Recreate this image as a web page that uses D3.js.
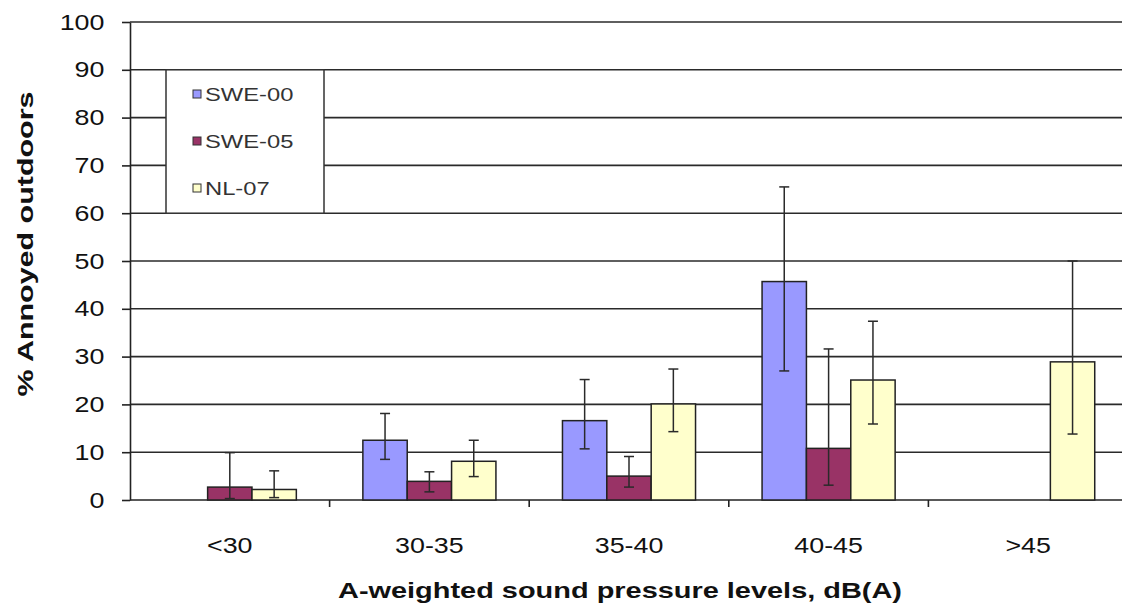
<!DOCTYPE html>
<html>
<head>
    <meta charset='utf-8' />
    <title>% Annoyed outdoors</title>
    <script src="https://d3js.org/d3.v7.min.js" charset="utf-8"></script>
    <style>
        body {
            margin: 0;
            background: #fff;
            font-family: "Liberation Sans", Arial, sans-serif;
        }
        .grid line {
            stroke: #2a2a2a;
            stroke-width: 1.6;
        }
        .axis path,
        .axis line {
            fill: none;
            stroke: #222;
            stroke-width: 1.6;
        }
        .axis text {
            fill: #111;
            font-size: 22px;
            font-family: "Liberation Sans", Arial, sans-serif;
        }
        .bar {
            stroke: #222;
            stroke-width: 1.5;
        }
        .err {
            stroke: #2a2a2a;
            stroke-width: 1.5;
        }
        .title {
            font-size: 22px;
            font-weight: bold;
            fill: #111;
        }
        .legend text {
            font-size: 19px;
            fill: #333;
        }
    </style>
</head>
<body>
<div id="graphic"></div>
<script>
    // categories and series
    var categories = ["<30", "30-35", "35-40", "40-45", ">45"];
    var seriesNames = ["SWE-00", "SWE-05", "NL-07"];
    var seriesColors = ["#9999ff", "#993366", "#ffffcc"];

    var swe00 = [null, 12.5, 16.6, 45.7, null];
    var swe00Lo = [null, 8.5, 10.7, 27.0, null];
    var swe00Hi = [null, 18.1, 25.2, 65.5, null];

    var swe05 = [2.7, 3.9, 5.0, 10.8, null];
    var swe05Lo = [0.3, 1.7, 2.7, 3.1, null];
    var swe05Hi = [9.9, 5.9, 9.1, 31.6, null];

    var nl07 = [2.2, 8.1, 20.1, 25.1, 28.9];
    var nl07Lo = [0.5, 4.9, 14.3, 15.9, 13.8];
    var nl07Hi = [6.1, 12.5, 27.4, 37.4, 50.0];

    var yTicks = [0, 10, 20, 30, 40, 50, 60, 70, 80, 90, 100];

    var values = [swe00, swe05, nl07];
    var lows = [swe00Lo, swe05Lo, nl07Lo];
    var highs = [swe00Hi, swe05Hi, nl07Hi];

    var W = 1122, H = 607;
    var plotLeft = 130, plotRight = 1128, plotTop = 22, plotBottom = 500;
    var sx = 1.22; // the text in the picture is stretched sideways

    var svg = d3.select("#graphic").append("svg")
        .attr("width", W)
        .attr("height", H);

    var x = d3.scaleBand()
        .domain(categories)
        .range([plotLeft, plotRight]);

    var x1 = d3.scaleBand()
        .domain(seriesNames)
        .range([0, x.bandwidth()])
        .paddingInner(0)
        .paddingOuter(0.75);

    var y = d3.scaleLinear()
        .domain([0, 100])
        .range([plotBottom, plotTop]);

    // gridlines
    svg.append("g")
        .attr("class", "grid")
        .selectAll("line")
        .data(yTicks.filter(function (d) { return d > 0; }))
        .enter().append("line")
        .attr("x1", plotLeft)
        .attr("x2", plotRight)
        .attr("y1", function (d) { return y(d); })
        .attr("y2", function (d) { return y(d); });

    // y axis
    var gy = svg.append("g")
        .attr("class", "axis")
        .attr("transform", "translate(" + plotLeft + ",0)")
        .call(d3.axisLeft(y).tickValues(yTicks).tickSize(8).tickSizeOuter(0).tickPadding(13));
    gy.selectAll("text").attr("transform", "scale(" + sx + ",1)");

    // x axis line and boundary ticks
    var gx = svg.append("g").attr("class", "axis");
    gx.append("line")
        .attr("x1", plotLeft).attr("x2", plotRight)
        .attr("y1", plotBottom).attr("y2", plotBottom);
    gx.selectAll(".sep")
        .data(categories.slice(1).concat(["end"]))
        .enter().append("line")
        .attr("class", "sep")
        .attr("x1", function (d) { return d === "end" ? plotRight : x(d); })
        .attr("x2", function (d) { return d === "end" ? plotRight : x(d); })
        .attr("y1", plotBottom)
        .attr("y2", plotBottom + 7);

    var gxl = svg.append("g")
        .attr("class", "axis")
        .attr("transform", "translate(0," + plotBottom + ")")
        .call(d3.axisBottom(x).tickSize(0).tickPadding(37));
    gxl.select(".domain").remove();
    gxl.selectAll("text").attr("transform", "scale(" + sx + ",1)");

    // bars and error bars
    var rows = [];
    seriesNames.forEach(function (s, i) {
        categories.forEach(function (c, j) {
            if (values[i][j] != null) {
                rows.push({ cat: c, series: s, color: seriesColors[i],
                    v: values[i][j], lo: lows[i][j], hi: highs[i][j] });
            }
        });
    });

    svg.selectAll(".bar")
        .data(rows)
        .enter().append("rect")
        .attr("class", "bar")
        .attr("x", function (d) { return x(d.cat) + x1(d.series); })
        .attr("width", x1.bandwidth())
        .attr("y", function (d) { return y(d.v); })
        .attr("height", function (d) { return y(0) - y(d.v); })
        .attr("fill", function (d) { return d.color; });

    var cap = 5;
    var eb = svg.selectAll(".errbar")
        .data(rows)
        .enter().append("g")
        .attr("class", "err")
        .attr("transform", function (d) {
            return "translate(" + (x(d.cat) + x1(d.series) + x1.bandwidth() / 2) + ",0)";
        });
    eb.append("line")
        .attr("y1", function (d) { return y(d.lo); })
        .attr("y2", function (d) { return y(d.hi); });
    eb.append("line")
        .attr("x1", -cap).attr("x2", cap)
        .attr("y1", function (d) { return y(d.hi); })
        .attr("y2", function (d) { return y(d.hi); });
    eb.append("line")
        .attr("x1", -cap).attr("x2", cap)
        .attr("y1", function (d) { return y(d.lo); })
        .attr("y2", function (d) { return y(d.lo); });

    // legend
    var legend = svg.append("g").attr("class", "legend");
    legend.append("rect")
        .attr("x", 166).attr("y", y(90))
        .attr("width", 158).attr("height", y(60) - y(90))
        .attr("fill", "#fff")
        .attr("stroke", "#333")
        .attr("stroke-width", 1.5);
    var items = legend.selectAll(".item")
        .data(seriesNames)
        .enter().append("g")
        .attr("class", "item")
        .attr("transform", function (d, i) { return "translate(193," + (94 + i * 47) + ")"; });
    items.append("rect")
        .attr("x", 0).attr("y", -4)
        .attr("width", 8).attr("height", 8)
        .attr("fill", function (d, i) { return seriesColors[i]; })
        .attr("stroke", "#333")
        .attr("stroke-width", 1);
    items.append("text")
        .attr("transform", "translate(12,0) scale(1.25,1)")
        .attr("dy", "0.36em")
        .text(function (d) { return d; });

    // axis titles
    svg.append("text")
        .attr("class", "title")
        .attr("x", 620)
        .attr("y", 598)
        .attr("text-anchor", "middle")
        .attr("textLength", 564)
        .attr("lengthAdjust", "spacingAndGlyphs")
        .text("A-weighted sound pressure levels, dB(A)");

    svg.append("text")
        .attr("class", "title")
        .attr("transform", "translate(33,244) rotate(-90)")
        .attr("text-anchor", "middle")
        .attr("textLength", 305)
        .attr("lengthAdjust", "spacingAndGlyphs")
        .text("% Annoyed outdoors");
</script>
</body>
</html>
